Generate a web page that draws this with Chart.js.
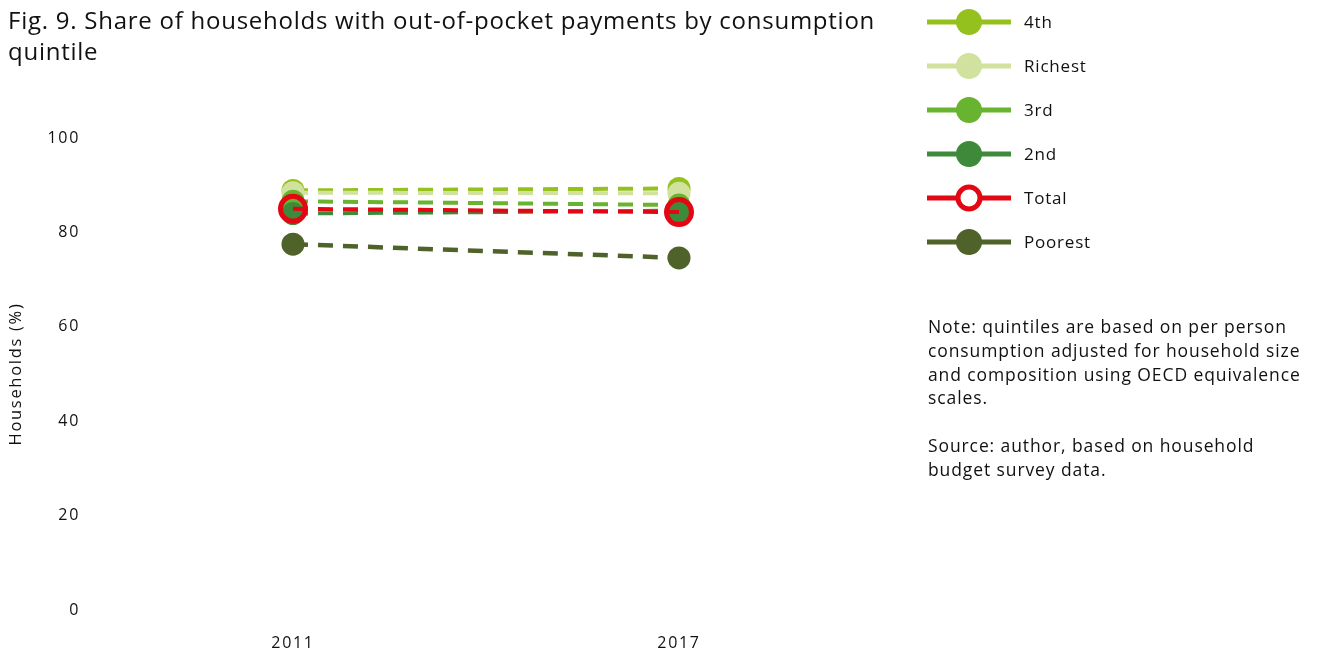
<!DOCTYPE html>
<html lang="en">
  <head>
    <meta charset="UTF-8"/>
    <title>Out-of-pocket payments by quintile</title>
    <style>
      body { margin: 0; background: #fff; font-family: "Open Sans", sans-serif; color: #111; }
      #wrap { position: relative; width: 1317px; height: 653px; overflow: hidden; }
      #title { position: absolute; left: 8px; top: 4px; font-size: 24px; line-height: 31px; letter-spacing: 0.75px; }
      #note { position: absolute; left: 928px; top: 315px; width: 389px; font-size: 17.5px; line-height: 23.8px; letter-spacing: 0.9px; }
      canvas { position: absolute; left: 0; top: 0; }
    </style>
  </head>
  <body>
  <div id="wrap">
    <canvas id="myChart" width="1317" height="653"></canvas>
    <div id="title">Fig. 9. Share of households with out-of-pocket payments by consumption<br>quintile</div>
    <div id="note">Note: quintiles are based on per person<br>consumption adjusted for household size<br>and composition using OECD equivalence<br>scales.<br><br>Source: author, based on household<br>budget survey data.</div>
  </div>
  <script src="https://cdn.jsdelivr.net/npm/chart.js"></script>
  <script>
    const years = ['2011', '2017'];
    const fourth = [88.9, 89.3];
    const richest = [88.4, 88.3];
    const third = [86.6, 85.8];
    const second = [84.0, 84.6];
    const total = [85.0, 84.3];
    const poorest = [77.5, 74.6];

    function series(label, values, color, order) {
      return {
        label: label,
        data: values,
        borderColor: color,
        backgroundColor: color,
        borderWidth: 4,
        borderDash: [15, 10],
        pointRadius: 11.5,
        pointHoverRadius: 11.5,
        pointBorderWidth: 0,
        pointBackgroundColor: color,
        order: order
      };
    }

    const totalSet = series('Total', total, '#e30613', 0);
    totalSet.pointRadius = 12.5;
    totalSet.pointBorderWidth = 5;
    totalSet.pointBorderColor = '#e30613';
    totalSet.pointBackgroundColor = 'rgba(0,0,0,0)';
    totalSet.hollow = true;

    const poorestSet = series('Poorest', poorest, '#4f6229', 5);
    poorestSet.borderWidth = 4.5;

    const data = {
      labels: years,
      datasets: [
        series('4th', fourth, '#95c11f', 4),
        series('Richest', richest, '#d0e29e', 3),
        series('3rd', third, '#68b32f', 2),
        series('2nd', second, '#3d8a3a', 1),
        totalSet,
        poorestSet
      ]
    };

    // the report font is wider than Open Sans, so space the canvas text a little
    const spacing = {
      id: 'spacing',
      beforeLayout(chart) { chart.ctx.letterSpacing = '1.7px'; },
      beforeDraw(chart) { chart.ctx.letterSpacing = '1.7px'; }
    };

    // legend drawn by hand: line with a marker in the middle
    const sideLegend = {
      id: 'sideLegend',
      afterDraw(chart) {
        const ctx = chart.ctx;
        ctx.save();
        ctx.letterSpacing = '0.8px';
        chart.data.datasets.forEach((ds, i) => {
          const y = 22 + i * 44;
          ctx.setLineDash([]);
          ctx.strokeStyle = ds.borderColor;
          ctx.lineWidth = 5;
          ctx.beginPath();
          ctx.moveTo(927, y);
          ctx.lineTo(1011, y);
          ctx.stroke();
          ctx.beginPath();
          if (ds.hollow) {
            ctx.arc(969, y, 11, 0, Math.PI * 2);
            ctx.fillStyle = '#fff';
            ctx.fill();
            ctx.lineWidth = 5;
            ctx.stroke();
          } else {
            ctx.arc(969, y, 13, 0, Math.PI * 2);
            ctx.fillStyle = ds.borderColor;
            ctx.fill();
          }
          ctx.fillStyle = '#111';
          ctx.font = '17px "Open Sans"';
          ctx.textBaseline = 'middle';
          ctx.fillText(ds.label, 1024, y + 1);
        });
        ctx.restore();
      }
    };

    const config = {
      type: 'line',
      data,
      options: {
        responsive: false,
        animation: false,
        layout: { padding: { top: 138, right: 445, left: 0, bottom: 0 } },
        plugins: {
          legend: { display: false },
          tooltip: { enabled: false }
        },
        scales: {
          x: {
            offset: true,
            grid: { display: false, drawTicks: false },
            border: { display: false },
            ticks: { color: '#111', font: { family: 'Open Sans', size: 16 }, padding: 24 },
            afterFit: (scale) => { scale.height = 43; }
          },
          y: {
            min: 0,
            max: 100,
            grid: { display: false, drawTicks: false },
            border: { display: false },
            ticks: { stepSize: 20, color: '#111', font: { family: 'Open Sans', size: 16 }, padding: 20 },
            title: {
              display: true,
              text: 'Households (%)',
              color: '#111',
              font: { family: 'Open Sans', size: 16.5 },
              padding: { top: 6, bottom: 4 }
            },
            afterFit: (scale) => { scale.width = 100; }
          }
        }
      },
      plugins: [spacing, sideLegend]
    };

    var myChart = new Chart(document.getElementById('myChart'), config);
  </script>
  </body>
</html>
